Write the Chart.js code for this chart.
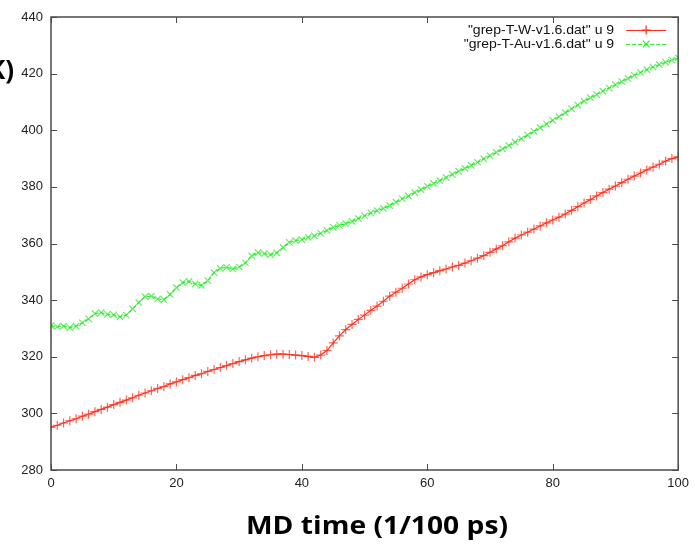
<!DOCTYPE html>
<html>
<head>
<meta charset="utf-8">
<script src="https://cdn.jsdelivr.net/npm/chart.js@4/dist/chart.umd.min.js"></script>
<style>
    html, body { margin: 0; padding: 0; background: #fff; }
    canvas { display: block; }
</style>
</head>
<body>
<canvas id="tempChart" width="695" height="546"></canvas>
<script>
// MD steps 0..100
const mdSteps = Array.from({ length: 101 }, (_, i) => i);

// "grep-T-W-v1.6.dat" u 9
const tempW = [
    295.1, 295.8, 296.6, 297.4, 298.1, 299.0, 299.7, 300.6, 301.4, 302.2,
    303.1, 303.9, 304.7, 305.5, 306.4, 307.2, 308.0, 308.8, 309.5, 310.4,
    311.1, 311.9, 312.6, 313.4, 314.0, 314.8, 315.5, 316.2, 316.9, 317.6,
    318.3, 318.9, 319.5, 320.0, 320.4, 320.7, 320.9, 320.9, 320.8, 320.6,
    320.4, 320.1, 319.8, 320.6, 322.2, 324.9, 327.4, 329.6, 331.4, 333.2,
    334.7, 336.4, 337.9, 339.6, 341.4, 342.8, 344.2, 345.7, 347.2, 348.2,
    349.0, 349.7, 350.4, 351.0, 351.7, 352.3, 353.1, 353.9, 354.8, 355.7,
    356.9, 358.1, 359.2, 360.6, 361.9, 363.0, 364.0, 365.1, 366.2, 367.3,
    368.3, 369.3, 370.4, 371.7, 373.0, 374.3, 375.5, 376.8, 378.0, 379.2,
    380.3, 381.5, 382.7, 383.8, 384.9, 386.0, 387.0, 388.0, 389.1, 390.0,
    390.6
];

// "grep-T-Au-v1.6.dat" u 9
const tempAu = [
    331.0, 330.6, 330.8, 330.3, 330.8, 332.0, 333.4, 335.2, 335.6, 335.0,
    334.8, 334.1, 334.7, 336.9, 339.2, 341.2, 341.4, 340.4, 340.2, 342.0,
    344.4, 346.2, 346.6, 345.7, 345.2, 346.9, 349.7, 351.2, 351.6, 351.0,
    351.7, 353.2, 355.6, 356.8, 356.4, 356.0, 356.7, 358.6, 360.4, 361.0,
    361.4, 362.2, 362.7, 363.6, 364.6, 365.7, 366.4, 367.0, 367.8, 368.8,
    369.8, 370.8, 371.6, 372.4, 373.4, 374.6, 375.8, 376.8, 378.0, 379.0,
    380.2, 381.2, 382.2, 383.3, 384.4, 385.5, 386.5, 387.6, 388.7, 389.9,
    391.0, 392.2, 393.4, 394.6, 395.8, 397.0, 398.3, 399.6, 400.9, 402.2,
    403.5, 404.8, 406.2, 407.6, 408.9, 410.3, 411.5, 412.6, 413.8, 414.9,
    416.1, 417.2, 418.3, 419.4, 420.4, 421.4, 422.3, 423.2, 424.0, 424.8,
    425.6
];

const seriesLabels = ['"grep-T-W-v1.6.dat" u 9', '"grep-T-Au-v1.6.dat" u 9'];
const xTitle = 'MD time (1/100 ps)';
const yTitle = 'K)';

const RED = '#ff2d1c';
const GREEN = '#2fe82f';
const tickFont = { family: "'Liberation Sans', Arial, sans-serif", size: 13 };

// gnuplot style frame with inward ticks on all four sides
const framePlugin = {
    id: 'frame',
    afterDraw(chart) {
        const { ctx, chartArea: { left, right, top, bottom }, scales: { x, y } } = chart;
        ctx.save();
        ctx.strokeStyle = '#4a4a4a';
        ctx.lineWidth = 1.5;
        ctx.strokeRect(left, top, right - left, bottom - top);
        ctx.lineWidth = 1;
        ctx.beginPath();
        x.ticks.forEach(t => {
            const px = Math.round(x.getPixelForValue(t.value)) + 0.5;
            ctx.moveTo(px, bottom); ctx.lineTo(px, bottom - 6);
            ctx.moveTo(px, top); ctx.lineTo(px, top + 6);
        });
        y.ticks.forEach(t => {
            const py = Math.round(y.getPixelForValue(t.value)) + 0.5;
            ctx.moveTo(left, py); ctx.lineTo(left + 6, py);
            ctx.moveTo(right, py); ctx.lineTo(right - 6, py);
        });
        ctx.stroke();
        ctx.restore();
    }
};

// legend in top right corner: text, then line sample with marker
const keyPlugin = {
    id: 'key',
    afterDraw(chart) {
        const { ctx, chartArea: { right, top } } = chart;
        ctx.save();
        ctx.font = "13px 'Liberation Sans', Arial, sans-serif";
        ctx.textAlign = 'right';
        ctx.textBaseline = 'middle';
        chart.data.datasets.forEach((ds, i) => {
            const ly = top + 13 + i * 14;
            ctx.fillStyle = '#111';
            ctx.save();
            ctx.translate(right - 64, ly);
            ctx.scale(1.08, 1);
            ctx.fillText(ds.label, 0, 0);
            ctx.restore();
            ctx.strokeStyle = ds.borderColor;
            ctx.lineWidth = 1.2;
            ctx.setLineDash(ds.borderDash || []);
            ctx.beginPath();
            ctx.moveTo(right - 52, ly + 0.5);
            ctx.lineTo(right - 12, ly + 0.5);
            ctx.stroke();
            ctx.setLineDash([]);
            const cx = right - 32, r = 4.5;
            ctx.beginPath();
            if (ds.pointStyle === 'cross') {
                ctx.moveTo(cx - r, ly); ctx.lineTo(cx + r, ly);
                ctx.moveTo(cx, ly - r); ctx.lineTo(cx, ly + r);
            } else {
                const d = r * 0.75;
                ctx.moveTo(cx - d, ly - d); ctx.lineTo(cx + d, ly + d);
                ctx.moveTo(cx - d, ly + d); ctx.lineTo(cx + d, ly - d);
            }
            ctx.stroke();
        });
        ctx.restore();
    }
};

// axis titles (y title is cut off at the left edge in the original)
const titlePlugin = {
    id: 'titles',
    afterDraw(chart) {
        const { ctx } = chart;
        ctx.save();
        ctx.fillStyle = '#000';
        ctx.font = "bold 25px 'Open Sans', Lato, sans-serif";
        ctx.textBaseline = 'middle';
        ctx.textAlign = 'center';
        const w = ctx.measureText(xTitle).width;
        ctx.translate(377, 527);
        ctx.scale(262 / w, 1);
        ctx.fillText(xTitle, 0, 0);
        ctx.restore();

        ctx.save();
        ctx.fillStyle = '#000';
        ctx.font = "bold 26px 'Open Sans', Lato, sans-serif";
        ctx.textBaseline = 'middle';
        ctx.textAlign = 'right';
        ctx.fillText(yTitle, 14, 72);
        ctx.restore();
    }
};

const ctx = document.getElementById('tempChart').getContext('2d');
new Chart(ctx, {
    type: 'line',
    data: {
        datasets: [{
            label: seriesLabels[0],
            data: mdSteps.map((t, i) => ({ x: t, y: tempW[i] })),
            borderColor: RED,
            backgroundColor: RED,
            borderWidth: 1.2,
            pointStyle: 'cross',
            pointRadius: 4.5,
            pointBorderWidth: 1.2,
            pointBorderColor: 'rgba(255, 45, 28, 0.75)',
            tension: 0,
            fill: false
        }, {
            label: seriesLabels[1],
            data: mdSteps.map((t, i) => ({ x: t, y: tempAu[i] })),
            borderColor: GREEN,
            backgroundColor: GREEN,
            borderWidth: 1.2,
            borderDash: [4, 2],
            pointStyle: 'crossRot',
            pointRadius: 4.5,
            pointBorderWidth: 1.2,
            pointBorderColor: 'rgba(47, 232, 47, 0.75)',
            tension: 0,
            fill: false
        }]
    },
    options: {
        responsive: false,
        animation: false,
        events: [],
        layout: { padding: { top: 17, right: 14, left: 0, bottom: 0 } },
        plugins: {
            legend: { display: false },
            tooltip: { enabled: false }
        },
        scales: {
            x: {
                type: 'linear',
                min: 0,
                max: 100,
                ticks: { stepSize: 20, color: '#222', font: tickFont, padding: 6, maxRotation: 0 },
                grid: { display: false, drawTicks: false },
                border: { display: false },
                afterFit: scale => { scale.height = 76; }
            },
            y: {
                min: 280,
                max: 440,
                ticks: { stepSize: 20, color: '#222', font: tickFont, padding: 8 },
                grid: { display: false, drawTicks: false },
                border: { display: false },
                afterFit: scale => { scale.width = 51; }
            }
        }
    },
    plugins: [framePlugin, keyPlugin, titlePlugin]
});
</script>
</body>
</html>
